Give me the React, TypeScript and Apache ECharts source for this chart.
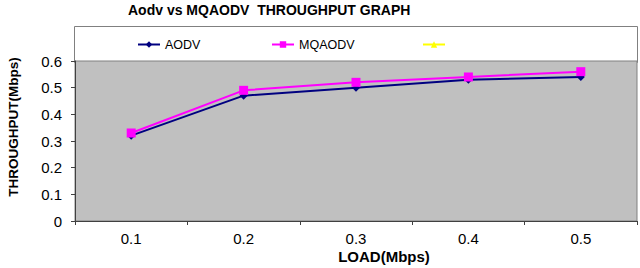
import React, { useEffect, useRef } from "react";
import * as echarts from "echarts";

const categories = ["0.1", "0.2", "0.3", "0.4", "0.5"];
const aodv = [0.32, 0.47, 0.5, 0.53, 0.54];
const mqaodv = [0.33, 0.49, 0.52, 0.54, 0.56];
const series3: number[] = [];
const titleText = "Aodv vs MQAODV  THROUGHPUT GRAPH";
const xName = "LOAD(Mbps)";
const yName = "THROUGHPUT(Mbps)";

const FONT = "Liberation Sans, Arial, sans-serif";

export default function App() {
  const ref = useRef<HTMLDivElement>(null);
  useEffect(() => {
    if (!ref.current) return;
    const chart = echarts.init(ref.current, undefined, { renderer: "svg" });
    const legendText = { fontFamily: FONT, fontSize: 12.5, color: "#000" };
    chart.setOption({
      animation: false,
      backgroundColor: "#ffffff",
      textStyle: { fontFamily: FONT },
      title: {
        text: titleText,
        left: 128,
        top: 3,
        padding: 0,
        textStyle: { fontFamily: FONT, fontSize: 14, fontWeight: "bold", color: "#000" },
      },
      graphic: [
        {
          type: "rect",
          shape: { x: 74.5, y: 26.5, width: 563, height: 36 },
          style: { fill: "#ffffff", stroke: "#808080", lineWidth: 1 },
          z: -1,
        },
        {
          type: "text",
          x: 384,
          y: 256,
          style: {
            text: xName,
            font: "bold 15px Liberation Sans, Arial, sans-serif",
            fill: "#000",
            align: "center",
            verticalAlign: "middle",
          },
        },
        {
          type: "text",
          x: 13,
          y: 127,
          rotation: Math.PI / 2,
          style: {
            text: yName,
            font: "bold 13.5px Liberation Sans, Arial, sans-serif",
            fill: "#000",
            align: "center",
            verticalAlign: "middle",
          },
        },
      ],
      legend: [
        {
          data: ["AODV"],
          left: 137,
          top: 38,
          padding: 0,
          itemWidth: 22,
          itemHeight: 8,
          textStyle: legendText,
        },
        {
          data: ["MQAODV"],
          left: 271,
          top: 38,
          padding: 0,
          itemWidth: 22,
          itemHeight: 8,
          textStyle: legendText,
        },
        {
          data: [" "],
          left: 422,
          top: 38,
          padding: 0,
          itemWidth: 22,
          itemHeight: 8,
          textStyle: legendText,
        },
      ],
      grid: {
        left: 75,
        right: 3,
        top: 61,
        bottom: 47,
        show: true,
        backgroundColor: "#c0c0c0",
        borderColor: "#808080",
        borderWidth: 1,
      },
      xAxis: {
        type: "category",
        data: categories,
        boundaryGap: true,
        axisLine: { lineStyle: { color: "#404040", width: 1 } },
        axisTick: { show: true, length: 4, lineStyle: { color: "#404040" } },
        axisLabel: { fontFamily: FONT, fontSize: 15, color: "#000", margin: 10 },
        splitLine: { show: false },
      },
      yAxis: {
        type: "value",
        min: 0,
        max: 0.6,
        interval: 0.1,
        axisLine: { show: true, lineStyle: { color: "#404040", width: 1 } },
        axisTick: { show: true, length: 4, lineStyle: { color: "#404040" } },
        axisLabel: {
          fontFamily: FONT,
          fontSize: 15,
          color: "#000",
          margin: 13,
          formatter: (v: number) => String(Math.round(v * 10) / 10),
        },
        splitLine: { show: false },
      },
      series: [
        {
          name: "AODV",
          type: "line",
          data: aodv,
          symbol: "diamond",
          symbolSize: 8,
          itemStyle: { color: "#000080" },
          lineStyle: { color: "#000080", width: 2 },
          z: 2,
        },
        {
          name: "MQAODV",
          type: "line",
          data: mqaodv,
          symbol: "rect",
          symbolSize: 9,
          itemStyle: { color: "#ff00ff" },
          lineStyle: { color: "#ff00ff", width: 2 },
          z: 3,
        },
        {
          name: " ",
          type: "line",
          data: series3,
          symbol: "triangle",
          symbolSize: 9,
          itemStyle: { color: "#ffff00" },
          lineStyle: { color: "#ffff00", width: 2 },
        },
      ],
    });
    return () => chart.dispose();
  }, []);
  return (
    <div
      ref={ref}
      style={{ position: "fixed", left: 0, top: 0, width: 640, height: 268 }}
    />
  );
}
